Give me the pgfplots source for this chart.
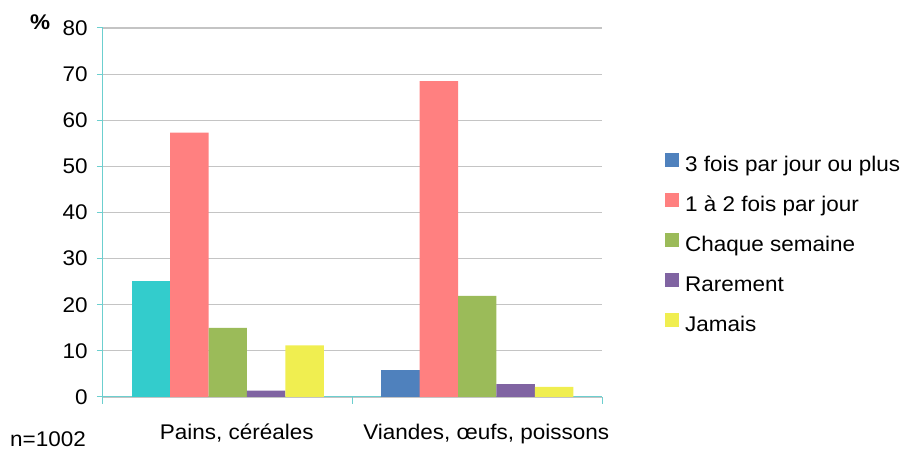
\documentclass[border=0pt]{standalone}
\usepackage{pgfplots}
\pgfplotsset{compat=1.18}
\usepackage{fontspec}
\setmainfont[FakeStretch=1.06]{Liberation Sans}

\definecolor{axiscol}{HTML}{6CCFCF}
\definecolor{gridcol}{HTML}{C4C4C4}
\definecolor{c1}{HTML}{4F81BD}
\definecolor{c1b}{HTML}{33CCCC}
\definecolor{c2}{HTML}{FF8080}
\definecolor{c3}{HTML}{9BBB59}
\definecolor{c4}{HTML}{8064A2}
\definecolor{c5}{HTML}{F0EE50}

\begin{document}
\fontsize{21.3}{25}\selectfont
\begin{tikzpicture}
\begin{axis}[
    width=499bp, height=369bp, scale only axis,
    xmin=-0.5, xmax=1.5, ymin=0, ymax=80,
    ybar, bar width=0.154,
    ytick={0,10,...,80},
    xtick={0,1},
    xticklabels={{Pains, céréales},{Viandes, œufs, poissons}},
    minor xtick={-0.5,0.5,1.5},
    axis x line*=bottom, axis y line*=left,
    axis line style={-, draw=axiscol, line width=1bp},
    tick align=outside,
    major tick length=6bp, minor tick length=7bp,
    tick style={draw=axiscol, line width=1bp},
    major x tick style={draw=none},
    ymajorgrids,
    grid style={draw=gridcol, line width=1.2bp},
    /pgf/number format/assume math mode=true,
    yticklabel style={xshift=-2bp},
    xticklabel style={inner sep=0pt, text height=15bp, yshift=-21bp, xshift=9bp},
    clip=false,
    legend cell align=left,
    legend style={draw=none, fill=none, inner sep=0pt,
        at={([xshift=63bp,yshift=-31.5bp]rel axis cs:1,0.5)}, anchor=west,
        row sep=17.5bp,
        nodes={inner sep=0pt, text height=15bp, text depth=4bp}},
    legend image code/.code={\fill[#1,draw=none] (0bp,-1bp) rectangle (14bp,13bp); \path (20bp,0bp);},
]
% 3 fois par jour ou plus (first bar drawn in a different colour)
\addplot[fill=c1b, draw=none, bar shift=-0.308, forget plot] coordinates {(0,25.1)};
\addplot[fill=c1, draw=none, bar shift=-0.308] coordinates {(1,5.8)};
\addplot[fill=c2, draw=none, bar shift=-0.154] coordinates {(0,57.3) (1,68.5)};
\addplot[fill=c3, draw=none, bar shift=0] coordinates {(0,15.0) (1,21.9)};
\addplot[fill=c4, draw=none, bar shift=0.154] coordinates {(0,1.4) (1,2.8)};
\addplot[fill=c5, draw=none, bar shift=0.308] coordinates {(0,11.2) (1,2.2)};
\legend{3 fois par jour ou plus, 1 à 2 fois par jour, Chaque semaine, Rarement, Jamais}

\node[anchor=base west, inner sep=0pt, font=\bfseries] at ([xshift=-73bp,yshift=-2bp]rel axis cs:0,1) {\%};
\node[anchor=base west, inner sep=0pt] at ([xshift=-93bp,yshift=-50bp]rel axis cs:0,0) {n=1002};
\coordinate (ll) at (rel axis cs:0,0);
\coordinate (ur) at (rel axis cs:1,1);
\end{axis}
\pgfresetboundingbox
\path ([xshift=-103bp,yshift=-56bp]ll) rectangle ([xshift=305bp,yshift=28bp]ur);
\end{tikzpicture}
\end{document}
